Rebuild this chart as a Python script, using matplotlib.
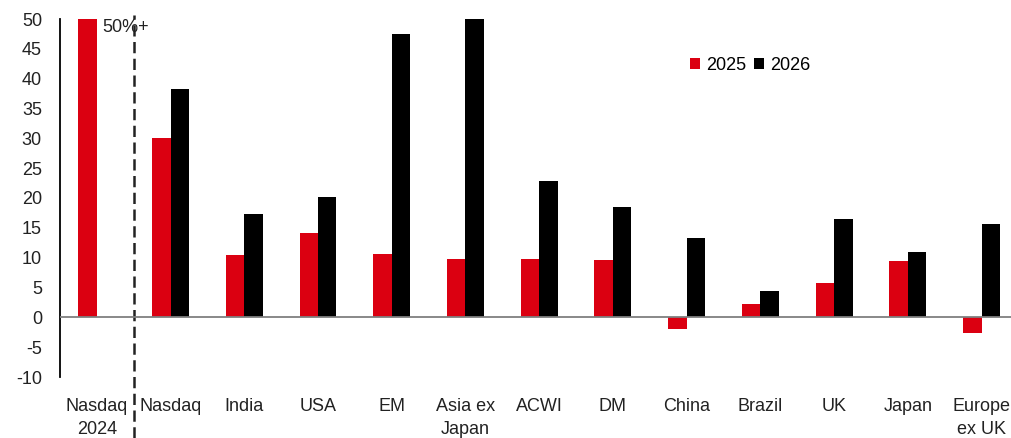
import matplotlib
matplotlib.use("Agg")
import matplotlib.pyplot as plt
import numpy as np

# Datos
categorias = ["Nasdaq\n2024", "Nasdaq", "India", "USA", "EM", "Asia ex\nJapan", "ACWI",
              "DM", "China", "Brazil", "UK", "Japan", "Europe\nex UK"]
v2025 = [50, 30.0, 10.5, 14.2, 10.6, 9.7, 9.7, 9.6, -2.0, 2.3, 5.8, 9.5, -2.6]
v2026 = [np.nan, 38.3, 17.3, 20.2, 47.5, 50, 22.8, 18.5, 13.3, 4.4, 16.5, 11.0, 15.6]
yticks = list(range(-10, 55, 5))

ROJO = "#DB0011"
plt.rcParams["font.family"] = ["Liberation Sans", "DejaVu Sans"]
plt.rcParams["font.size"] = 13
plt.rcParams["axes.unicode_minus"] = False

fig = plt.figure(figsize=(10.11, 4.38), dpi=100)
ax = fig.add_axes([60 / 1011, 1 - 377 / 438, 951 / 1011, 358 / 438])

x = np.arange(len(categorias))
w = 0.25
ax.bar(x - w / 2, v2025, w, color=ROJO, label="2025")
ax.bar(x + w / 2, v2026, w, color="black", label="2026")

ax.set_xlim(-0.5, 12.4)
ax.set_ylim(-10, 50)
ax.set_yticks(yticks)
ax.set_xticks(x)
ax.set_xticklabels(categorias, color="#222222", linespacing=1.45)
ax.tick_params(axis="both", length=0, colors="#222222")
ax.tick_params(axis="y", pad=13)
ax.tick_params(axis="x", pad=15)

for s in ["top", "right", "bottom"]:
    ax.spines[s].set_visible(False)
ax.spines["left"].set_linewidth(1.3)
ax.axhline(0, color="#7f7f7f", lw=1.3, zorder=3)

# linea punteada separando 2024
ax.axvline(0.5, ymin=-0.17, ymax=1.011, color="#222222", lw=1.8,
           dashes=(4.5, 2.2), clip_on=False)
ax.text(0.068, 48.6, "50%+", va="center", ha="left", color="#222222")

ax.legend(loc="center", bbox_to_anchor=(0.7256, 0.8715), ncol=2, frameon=False,
          handlelength=0.55, handleheight=0.55, handletextpad=0.33,
          columnspacing=0.45, borderpad=0)

fig.savefig("out.png", dpi=100)
